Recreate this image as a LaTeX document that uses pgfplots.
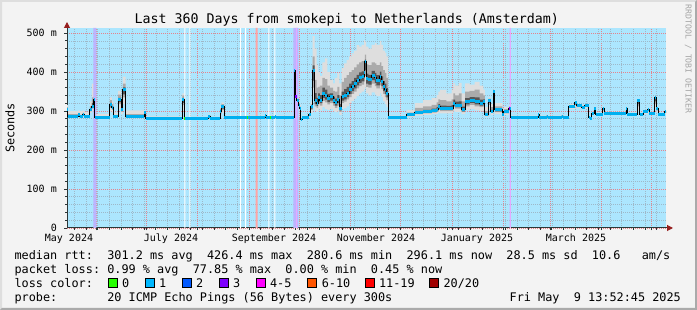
\documentclass[border=0pt]{standalone}
\usepackage{fontspec}
\setmainfont{DejaVu Sans Mono}
\usepackage{xcolor}
\usepackage{pgfplots}
\usepackage{pgfplotstable}
\pgfplotsset{compat=1.18}
\usepgfplotslibrary{fillbetween}
\usetikzlibrary{arrows.meta}

\definecolor{bgc}{RGB}{243,243,243}
\definecolor{shadeA}{RGB}{222,222,222}
\definecolor{shadeB}{RGB}{170,170,170}
\definecolor{canvasc}{RGB}{172,230,254}
\definecolor{gridc}{RGB}{158,184,200}
\definecolor{mgridc}{RGB}{230,130,140}
\definecolor{axisc}{RGB}{45,55,55}
\definecolor{arrowc}{RGB}{150,30,30}
\definecolor{medc}{RGB}{0,176,240}
\definecolor{smokeA}{RGB}{222,222,222}
\definecolor{smokeB}{RGB}{170,170,170}
\definecolor{smokeC}{RGB}{85,85,85}
\definecolor{lavc}{RGB}{188,180,255}
\definecolor{salc}{RGB}{255,165,165}
\definecolor{pinkc}{RGB}{228,170,255}
\definecolor{lc0}{RGB}{38,255,0}
\definecolor{lc1}{RGB}{0,184,255}
\definecolor{lc2}{RGB}{0,89,255}
\definecolor{lc3}{RGB}{126,0,255}
\definecolor{lc4}{RGB}{255,0,255}
\definecolor{lc6}{RGB}{255,85,0}
\definecolor{lc11}{RGB}{255,0,0}
\definecolor{lc20}{RGB}{160,0,0}
\definecolor{rrdc}{RGB}{165,165,165}
\pagecolor{bgc}

% d = days since start of the 360-day window, values in ms
\pgfplotstableread{
d med lo2 lo1 lo0 hi0 hi1 hi2
0 305 300 302 303 307 310 316
0.6 287 284 285 286 289 292 300
6.8 291 286 288 289 292 295 302
7.8 285 283 284 284 287 290 300
9.4 290 285 287 288 292 295 302
10.4 285 283 284 284 286 289 298
13.8 303 296 299 301 306 312 325
15.0 312 300 306 308 320 335 370
16.2 330 305 315 321 336 348 372
16.8 284 282 283 283 285 287 293
25.8 318 300 308 312 321 328 335
27.0 310 296 303 306 313 318 326
27.8 286 283 284 285 288 290 296
30.8 330 305 318 323 334 342 352
32.5 305 292 298 301 309 315 330
33.6 356 318 335 343 361 370 388
35.3 285 282 284 284 287 292 302
46.4 296 285 290 292 297 299 302
47.3 281 279 280 280 282 283 286
69.3 330 300 315 321 334 340 345
70.5 281 279 280 280 282 283 285
85.0 287 282 284 285 288 289 291
86.0 281 279 280 280 282 283 285
92.0 300 285 292 295 302 306 312
92.8 311 295 303 306 314 318 322
94.5 284 282 283 283 285 286 288
119.0 288 283 285 286 289 290 292
119.6 284 282 283 283 285 286 288
125.0 287 283 285 286 288 289 291
125.6 284 282 283 283 285 286 288
136.6 405 330 370 385 405 406 408
137.3 337 320 328 332 339 342 350
138.2 328 312 320 323 330 332 338
139.4 315 303 309 311 317 320 325
140.0 307 298 302 304 309 311 316
140.6 279 277 278 278 280 281 283
141.4 284 282 283 283 285 286 288
145.4 290 284 287 288 291 293 296
146.6 311 295 303 306 314 318 325
147.6 405 330 360 378 417 440 492
148.8 328 300 312 318 346 380 460
150.0 320 298 308 313 334 360 418
151.0 335 305 318 325 345 362 400
152.0 328 302 314 320 341 365 390
153.5 346 310 326 334 360 385 425
155.0 340 305 322 329 355 382 435
156.5 333 303 317 323 344 365 400
158.0 337 305 320 327 345 360 379
160.0 328 300 314 320 337 352 371
161.0 322 297 308 314 332 350 385
162.5 330 300 314 320 341 362 397
163.7 307 290 298 302 318 340 371
165.0 337 305 320 327 350 375 410
166.5 340 308 324 330 356 385 422
168.0 346 312 330 336 362 392 431
169.5 355 320 336 344 370 400 440
171.0 362 326 344 351 377 405 448
172.5 370 332 350 358 385 412 455
174.0 379 338 358 366 393 420 469
175.5 385 345 364 372 399 425 465
177.0 388 350 368 376 402 428 470
178.5 400 355 376 386 410 430 482
179.0 426 360 390 404 432 445 478
179.8 383 345 362 370 396 420 465
181.1 380 340 360 368 393 418 460
183.1 392 348 370 379 403 425 470
185.1 385 342 364 372 398 422 475
186.0 379 338 358 366 392 418 470
188.0 388 345 366 375 401 425 480
189.0 375 336 356 364 389 415 470
190.0 362 325 344 351 377 405 455
191.0 355 318 336 344 370 398 450
192.0 345 310 328 335 359 385 440
193.0 284 282 283 283 285 286 288
204.1 290 285 287 288 292 296 303
209.1 296 288 292 294 300 308 320
214.1 298 290 294 296 303 312 328
219.2 301 292 296 298 306 316 333
222.2 303 293 298 300 310 322 341
223.2 311 296 303 306 318 330 350
224.2 307 294 300 303 314 328 354
228.0 307 294 300 303 313 325 345
231.2 307 294 300 303 315 330 355
232.2 320 300 310 314 329 345 371
233.2 315 298 306 310 324 340 365
235.5 315 298 306 310 325 345 372
237.2 303 292 297 299 311 325 345
239.2 324 302 312 317 333 350 371
242.0 328 305 316 321 336 352 368
245.0 324 302 312 317 335 355 375
248.0 320 300 310 314 329 345 365
250.2 324 302 312 317 330 340 355
251.2 290 285 287 288 294 300 310
253.2 328 305 316 321 329 332 335
254.8 300 290 295 297 303 310 318
256.2 350 315 330 338 351 352 355
257.2 303 292 297 299 306 312 320
261.6 290 285 287 288 293 298 305
262.6 298 290 294 296 300 305 310
265.6 307 296 301 303 309 312 315
266.6 284 282 283 283 285 286 288
283.3 290 285 287 288 291 292 294
283.9 284 282 283 283 285 286 288
288.3 287 283 285 286 288 289 291
288.9 284 282 283 283 285 286 288
297.3 287 283 285 286 288 289 291
297.9 284 282 283 283 285 286 288
301.6 311 305 308 309 312 315 318
305.3 321 310 315 317 322 324 326
306.3 313 307 310 311 314 316 318
309.3 310 305 307 308 311 313 316
311.3 313 307 310 311 314 316 318
313.7 284 282 283 283 285 286 288
314.3 281 279 280 280 282 283 285
315.5 294 290 292 293 295 296 298
317.0 307 296 301 303 308 309 311
317.9 292 289 290 291 293 294 296
322.0 307 296 301 303 308 309 311
322.8 294 291 292 293 295 296 298
336.0 307 296 301 303 308 309 311
336.8 292 289 290 291 293 294 296
342.8 326 300 312 318 327 328 330
344.3 292 289 290 291 293 294 296
345.2 290 287 288 289 291 292 294
346.2 298 292 295 296 299 300 302
349.0 303 295 299 301 304 305 307
350.0 294 291 292 293 295 296 298
353.2 335 305 318 325 336 337 339
354.2 307 296 301 303 308 309 311
355.2 291 288 289 290 292 293 295
359.3 298 292 295 296 299 300 302
360 298 292 295 296 299 300 302
}\smoke

\newcommand\lfont{\fontsize{11.84}{14}\selectfont}
\frenchspacing

\begin{document}
\begin{tikzpicture}[x=1pt,y=1pt]
\fill[shadeA] (0,310) -- (697,310) -- (695,308) -- (2,308) -- (2,2) -- (0,0) -- cycle;
\fill[shadeB] (697,310) -- (697,0) -- (0,0) -- (2,2) -- (695,2) -- (695,308) -- cycle;

\begin{axis}[
  at={(67pt,82pt)}, anchor=south west,
  scale only axis, width=599pt, height=200pt,
  xmin=0, xmax=360, ymin=0, ymax=513,
  axis background/.style={fill=canvasc},
  axis lines=left,
  axis line style={draw=axisc, line width=1pt},
  x axis line style={-{Triangle[length=6pt,width=6pt,color=arrowc]}, shorten >=-7pt},
  y axis line style={-{Triangle[length=6pt,width=6pt,color=arrowc]}, shorten >=-6pt},
  xtick={17.42,47.42,78.42,109.42,139.42,170.42,200.42,231.42,262.42,290.42,321.42,351.42},
  xticklabels={},
  minor xtick={4.42,11.42,...,360},
  extra x ticks={1.2,62.5,124.4,185.7,246.4,305.9},
  extra x tick labels={May 2024,July 2024,September 2024,November 2024,January 2025,March 2025},
  extra x tick style={grid=none, major tick length=0pt},
  ytick={0,100,200,300,400,500},
  yticklabels={0,100 m,200 m,300 m,400 m,500 m},
  minor ytick={20,40,...,500},
  grid=both,
  major grid style={draw=mgridc, line width=0.8pt, dash pattern=on 1pt off 1pt},
  minor grid style={draw=gridc, line width=0.7pt, dash pattern=on 1pt off 1pt},
  tick align=outside,
  major tick length=2.5pt, minor tick length=2pt,
  tick style={draw=axisc, line width=0.8pt},
  tick label style={font=\fontsize{10}{12}\selectfont, inner sep=0pt},
  xticklabel style={anchor=base, yshift=-13.3pt},
  yticklabel style={anchor=east, xshift=-7.5pt},
]
% loss / unknown background bands
\addplot[draw=none, fill=lavc, forget plot] coordinates {(15.9,0) (15.9,513) (17.7,513) (17.7,0)} \closedcycle;
\addplot[draw=none, fill=white, forget plot] coordinates {(70.6,0) (70.6,513) (71.2,513) (71.2,0)} \closedcycle;
\addplot[draw=none, fill=white, forget plot] coordinates {(73.6,0) (73.6,513) (74.2,513) (74.2,0)} \closedcycle;
\addplot[draw=none, fill=white, forget plot] coordinates {(104.0,0) (104.0,513) (104.6,513) (104.6,0)} \closedcycle;
\addplot[draw=none, fill=white, forget plot] coordinates {(107.0,0) (107.0,513) (107.6,513) (107.6,0)} \closedcycle;
\addplot[draw=none, fill=salc, forget plot] coordinates {(113.4,0) (113.4,513) (114.6,513) (114.6,0)} \closedcycle;
\addplot[draw=none, fill=white, forget plot] coordinates {(121.1,0) (121.1,513) (121.7,513) (121.7,0)} \closedcycle;
\addplot[draw=none, fill=white, forget plot] coordinates {(124.7,0) (124.7,513) (125.3,513) (125.3,0)} \closedcycle;
\addplot[draw=none, fill=lavc, forget plot] coordinates {(136.0,0) (136.0,513) (139.0,513) (139.0,0)} \closedcycle;
\addplot[draw=none, fill=pinkc, forget plot] coordinates {(137.7,0) (137.7,513) (138.3,513) (138.3,0)} \closedcycle;
\addplot[draw=none, fill=pinkc, forget plot] coordinates {(266.0,0) (266.0,513) (266.7,513) (266.7,0)} \closedcycle;

% smoke
\addplot[name path=h2, draw=none, const plot mark left, forget plot] table[x=d,y=hi2]{\smoke};
\addplot[name path=l2, draw=none, const plot mark left, forget plot] table[x=d,y=lo2]{\smoke};
\addplot[fill=smokeA, draw=none, forget plot] fill between[of=h2 and l2];
\addplot[name path=h1, draw=none, const plot mark left, forget plot] table[x=d,y=hi1]{\smoke};
\addplot[name path=l1, draw=none, const plot mark left, forget plot] table[x=d,y=lo1]{\smoke};
\addplot[fill=smokeB, draw=none, forget plot] fill between[of=h1 and l1];
\addplot[name path=h0, draw=none, const plot mark left, forget plot] table[x=d,y=hi0]{\smoke};
\addplot[name path=l0, draw=none, const plot mark left, forget plot] table[x=d,y=lo0]{\smoke};
\addplot[fill=smokeC, draw=none, forget plot] fill between[of=h0 and l0];

% median
\addplot[black, line width=1pt, const plot mark left, forget plot] table[x=d,y=med]{\smoke};
\addplot[medc, line width=3pt, jump mark left, forget plot] table[x=d,y=med]{\smoke};
\addplot[lc3, line width=3pt, jump mark left, forget plot] coordinates {(137.3,337) (138.0,337)};
\addplot[lc3, line width=3pt, jump mark left, forget plot] coordinates {(265.8,307) (266.5,307)};
\addplot[lc0, line width=3pt, jump mark left, forget plot] coordinates {(70.5,281) (71.2,281)};
\addplot[lc0, line width=3pt, jump mark left, forget plot] coordinates {(107.9,284) (108.6,284)};
\addplot[lc0, line width=3pt, jump mark left, forget plot] coordinates {(121.9,284) (122.6,284)};
\end{axis}

% title and side texts
\node[font=\fontsize{13.3}{15}\selectfont, anchor=base, inner sep=0pt] at (346.7,286) {Last 360 Days from smokepi to Netherlands (Amsterdam)};
\node[font=\lfont, rotate=90, inner sep=0pt] at (10,182) {Seconds};
\node[font=\fontsize{8.2}{10}\selectfont, rotate=-90, anchor=west, inner sep=0pt, text=rrdc] at (688.3,305.5) {RRDTOOL / TOBI OETIKER};

% legend
\node[font=\lfont, anchor=base west, inner sep=0pt] at (14.4,50.5) {median~rtt:~~301.2~ms~avg~~426.4~ms~max~~280.6~ms~min~~296.1~ms~now~~28.5~ms~sd~~10.6~~~am/s};
\node[font=\lfont, anchor=base west, inner sep=0pt] at (14.4,36.5) {packet~loss:~0.99~\%~avg~~77.85~\%~max~~0.00~\%~min~~0.45~\%~now};
\node[font=\lfont, anchor=base west, inner sep=0pt] at (14.4,22.5) {loss~color:};
\node[font=\lfont, anchor=base west, inner sep=0pt] at (14.4,8.5) {probe:~~~~~~~20~ICMP~Echo~Pings~(56~Bytes)~every~300s};
\node[font=\lfont, anchor=base east, inner sep=0pt] at (681,8.5) {Fri~May~~9~13:52:45~2025};

\foreach \bx/\lx/\c/\t in {108/121.9/lc0/0, 145.3/158.9/lc1/1, 182.2/195.9/lc2/2, 219.1/232.9/lc3/3, 256.4/269.9/lc4/4-5, 307.6/321.6/lc6/6-10, 365.3/378.9/lc11/11-19, 429.8/443.3/lc20/{20/20}}{
  \filldraw[fill=\c, draw=black, line width=0.8pt] (\bx,22.5) rectangle ++(9,9);
  \node[font=\lfont, anchor=base west, inner sep=0pt] at (\lx,22.5) {\t};
}

\pgfresetboundingbox
\path (0,0) rectangle (697,310);
\end{tikzpicture}
\end{document}
